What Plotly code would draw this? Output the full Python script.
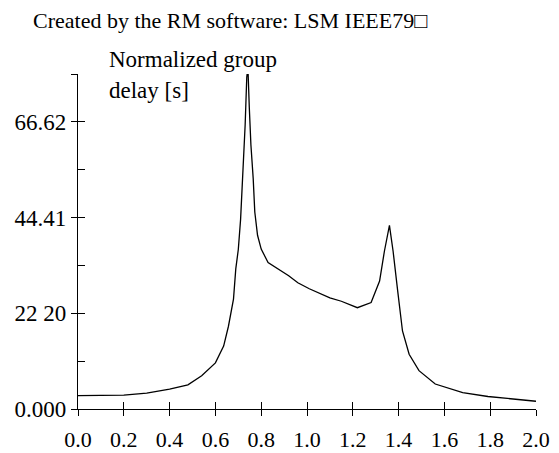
import plotly.graph_objects as go

# Normalized frequency (x) and normalized group delay [s] (y)
freq = [0.0, 0.1, 0.2, 0.3, 0.4, 0.48, 0.54, 0.6, 0.636, 0.657, 0.679, 0.689, 0.70,
        0.71, 0.72, 0.73, 0.737, 0.742, 0.748, 0.755, 0.765, 0.772, 0.784, 0.80,
        0.83, 0.875, 0.92, 0.96, 1.01, 1.10, 1.15, 1.22, 1.28, 1.317, 1.338, 1.36,
        1.376, 1.396, 1.417, 1.446, 1.489, 1.56, 1.61, 1.68, 1.79, 1.89, 2.0]
delay = [3.1, 3.1, 3.2, 3.7, 4.6, 5.6, 7.7, 10.7, 14.6, 19.2, 25.5, 32.5, 37.0,
         44.0, 54.0, 66.0, 77.0, 79.2, 70.0, 61.3, 53.5, 45.7, 40.3, 37.1,
         34.0, 32.5, 30.9, 29.3, 27.9, 25.8, 25.0, 23.5, 24.7, 29.7, 36.6, 42.6,
         36.6, 27.4, 18.1, 12.7, 8.9, 5.8, 5.0, 3.8, 2.9, 2.3, 1.8]

x_ticks = [0.0, 0.2, 0.4, 0.6, 0.8, 1.0, 1.2, 1.4, 1.6, 1.8, 2.0]
x_tick_labels = ["0.0", "0.2", "0.4", "0.6", "0.8", "1.0", "1.2", "1.4", "1.6", "1.8", "2.0"]
y_ticks = [0.0, 22.20, 44.41, 66.62, 77.72]
y_tick_labels = ["0.000", "22 20", "44.41", "66.62", ""]
y_minor_ticks = [0.0, 11.10, 22.20, 33.31, 44.41, 55.51, 66.62, 77.72]

title_text = "Created by the RM software: LSM IEEE79\u25a1"
ylabel_lines = ["Normalized group", "delay [s]"]

FONT = "Liberation Serif, Times New Roman, serif"

fig = go.Figure()
fig.add_trace(go.Scatter(x=freq, y=delay, mode="lines",
                         line=dict(color="black", width=1.3),
                         showlegend=False, hoverinfo="skip"))
# empty helper trace for the overlaid tick axes
fig.add_trace(go.Scatter(x=[], y=[], xaxis="x2", yaxis="y2", showlegend=False))

fig.update_layout(
    width=559, height=453,
    margin=dict(l=78, r=23, t=74, b=44, autoexpand=False),
    paper_bgcolor="white", plot_bgcolor="white",
    font=dict(family=FONT, size=22, color="black"),
    xaxis=dict(range=[0, 2.0], tickvals=x_ticks, ticktext=x_tick_labels,
               ticks="outside", ticklen=6, tickwidth=1.3, tickcolor="black",
               ticklabelstandoff=4, automargin=False,
               showline=True, linecolor="black", linewidth=1.3,
               showgrid=False, zeroline=False, tickfont=dict(size=22), fixedrange=True),
    yaxis=dict(range=[0, 77.72], tickvals=y_ticks, ticktext=y_tick_labels,
               ticks="outside", ticklen=6, tickwidth=1.3, tickcolor="black",
               automargin=False,
               showline=True, linecolor="black", linewidth=1.3,
               showgrid=False, zeroline=False, tickfont=dict(size=23), fixedrange=True),
    xaxis2=dict(overlaying="x", range=[0, 2.0], tickvals=x_ticks, showticklabels=False,
                ticks="inside", ticklen=7, tickwidth=1.3, tickcolor="black",
                automargin=False,
                showline=False, showgrid=False, zeroline=False, fixedrange=True),
    yaxis2=dict(overlaying="y", range=[0, 77.72], tickvals=y_minor_ticks, showticklabels=False,
                ticks="inside", ticklen=7, tickwidth=1.3, tickcolor="black",
                automargin=False,
                showline=False, showgrid=False, zeroline=False, fixedrange=True),
)

fig.add_annotation(text=title_text, xref="paper", yref="paper",
                   x=-0.103, y=1.161, xanchor="left", yanchor="middle",
                   showarrow=False, font=dict(size=22, family=FONT))
fig.add_annotation(text=ylabel_lines[0], xref="paper", yref="paper",
                   x=0.064, y=1.042, xanchor="left", yanchor="middle",
                   showarrow=False, font=dict(size=23, family=FONT))
fig.add_annotation(text=ylabel_lines[1], xref="paper", yref="paper",
                   x=0.064, y=0.950, xanchor="left", yanchor="middle",
                   showarrow=False, font=dict(size=23, family=FONT))

fig.write_html("out.html")
